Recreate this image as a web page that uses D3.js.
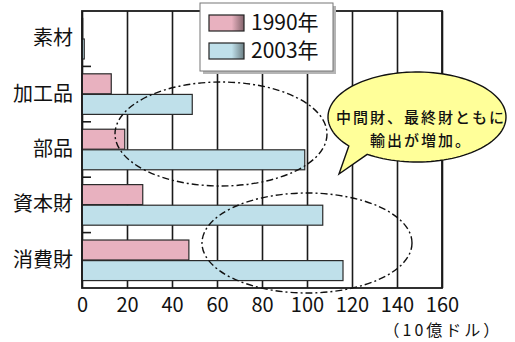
<!DOCTYPE html>
<html>
<head>
<meta charset="utf-8">
<script src="https://cdn.jsdelivr.net/npm/d3@7"></script>
<style>
  html, body { margin: 0; padding: 0; background: #fff; }
  svg { display: block; }
  text { font-family: "Noto Sans CJK JP", "Noto Sans", sans-serif; fill: #111; }
</style>
</head>
<body>
<svg id="chart" width="515" height="342"></svg>
<script>
// Export by goods category (10億ドル)
const categories = ["素材", "加工品", "部品", "資本財", "消費財"];
const seriesNames = ["1990年", "2003年"];
const values1990 = [0.3, 13, 19, 27, 47.5];
const values2003 = [1.0, 49, 99, 107, 116];
const xTicks = [0, 20, 40, 60, 80, 100, 120, 140, 160];
const unitLabel = "（10億ドル）";
const noteLines = ["中間財、最終財ともに", "輸出が増加。"];

const colors = { "1990年": "#e8b1bf", "2003年": "#bfe0ea" };

const svg = d3.select("#chart");
const plotLeft = 82, plotRight = 442, plotTop = 11, plotBottom = 288;

const x = d3.scaleLinear().domain([0, 160]).range([plotLeft, plotRight]);
const y = d3.scaleBand().domain(categories).range([plotTop, plotBottom]);
const ySub = d3.scaleBand().domain(seriesNames).range([0, y.bandwidth()])
  .paddingInner(0.03).paddingOuter(0.36);

const rows = categories.map((c, i) => ({ cat: c, vals: [values1990[i], values2003[i]] }));

// defs: gradient swatches for the legend
const defs = svg.append("defs");
seriesNames.forEach((s, i) => {
  const g = defs.append("linearGradient").attr("id", "sw" + i)
    .attr("x1", "0%").attr("x2", "100%");
  g.append("stop").attr("offset", "0%").attr("stop-color", colors[s]);
  g.append("stop").attr("offset", "65%").attr("stop-color", colors[s]);
  g.append("stop").attr("offset", "100%").attr("stop-color", d3.color(colors[s]).darker(1.6));
});

// vertical grid lines
svg.append("g")
  .attr("transform", `translate(0,${plotBottom})`)
  .call(d3.axisBottom(x).tickValues(xTicks).tickSize(-(plotBottom - plotTop)).tickFormat(""))
  .call(g => g.select(".domain").remove())
  .call(g => g.selectAll("line").attr("stroke", "#1a1a1a").attr("stroke-width", 1.6));

// bars
const rowG = svg.append("g").selectAll("g").data(rows).join("g")
  .attr("transform", d => `translate(0,${y(d.cat)})`);
rowG.selectAll("rect").data(d => d.vals.map((v, i) => ({ s: seriesNames[i], v })))
  .join("rect")
  .attr("x", x(0))
  .attr("y", d => ySub(d.s))
  .attr("width", d => x(d.v) - x(0))
  .attr("height", ySub.bandwidth())
  .attr("fill", d => colors[d.s])
  .attr("stroke", "#2a2a2a")
  .attr("stroke-width", 1.2);

// plot frame
svg.append("rect")
  .attr("x", plotLeft).attr("y", plotTop)
  .attr("width", plotRight - plotLeft).attr("height", plotBottom - plotTop)
  .attr("fill", "none").attr("stroke", "#1a1a1a").attr("stroke-width", 1.8);

// category separator ticks on the left axis
svg.append("g").selectAll("line").data(categories.slice(1)).join("line")
  .attr("x1", plotLeft).attr("x2", plotLeft + 9)
  .attr("y1", d => y(d)).attr("y2", d => y(d))
  .attr("stroke", "#1a1a1a").attr("stroke-width", 1.6);

// category labels
svg.append("g")
  .attr("transform", `translate(${plotLeft},0)`)
  .call(d3.axisLeft(y).tickSize(0).tickPadding(9))
  .call(g => g.select(".domain").remove())
  .call(g => g.selectAll("text").style("font-size", "20px").attr("fill", "#111"));

// value labels
svg.append("g")
  .attr("transform", `translate(0,${plotBottom})`)
  .call(d3.axisBottom(x).tickValues(xTicks).tickSize(0).tickPadding(10).tickFormat(d3.format("d")))
  .call(g => g.select(".domain").remove())
  .call(g => g.selectAll("text").style("font-size", "20px").attr("fill", "#111"));

svg.append("text")
  .attr("x", 443).attr("y", 336)
  .attr("text-anchor", "middle")
  .style("font-size", "16px")
  .style("letter-spacing", "3px")
  .text(unitLabel);

// dash-dot ellipses around the 2003 bar ends
const ringStyle = sel => sel.attr("fill", "none").attr("stroke", "#111")
  .attr("stroke-width", 1.4).attr("stroke-dasharray", "7,3,2,3");
svg.append("ellipse").attr("cx", 221).attr("cy", 134).attr("rx", 106).attr("ry", 52).call(ringStyle);
svg.append("ellipse").attr("cx", 307).attr("cy", 243).attr("rx", 105).attr("ry", 50).call(ringStyle);

// legend
const lg = svg.append("g");
lg.append("rect").attr("x", 203).attr("y", 6).attr("width", 133).attr("height", 68).attr("fill", "#b5b5b5");
lg.append("rect").attr("x", 200).attr("y", 3).attr("width", 133).attr("height", 68)
  .attr("fill", "#fff").attr("stroke", "#777").attr("stroke-width", 1);
seriesNames.forEach((s, i) => {
  const yy = 15 + i * 28;
  lg.append("rect").attr("x", 209).attr("y", yy).attr("width", 35).attr("height", 16)
    .attr("fill", `url(#sw${i})`).attr("stroke", "#222").attr("stroke-width", 1.2);
  lg.append("text").attr("x", 251).attr("y", yy + 8).attr("dy", "0.35em")
    .style("font-size", "21px").text(s);
});

// speech balloon
const cx = 417, cy = 117, rx = 89, ry = 45;
const a0 = 140 * Math.PI / 180, a1 = 124 * Math.PI / 180;
const balloon = d3.path();
const steps = 120;
for (let k = 0; k <= steps; k++) {
  // go around the ellipse from a1 to a0 (the long way), leaving a gap for the tail
  const t = a1 - (k / steps) * (2 * Math.PI - (a0 - a1));
  const px = cx + rx * Math.cos(t), py = cy + ry * Math.sin(t);
  if (k === 0) balloon.moveTo(px, py); else balloon.lineTo(px, py);
}
balloon.lineTo(339, 174);
balloon.closePath();
svg.append("path").attr("d", balloon.toString())
  .attr("fill", "#ffff99").attr("stroke", "#111").attr("stroke-width", 1.4);

svg.append("g").selectAll("text").data(noteLines).join("text")
  .attr("x", 421).attr("y", (d, i) => 118 + i * 22.5).attr("dy", "0.35em")
  .attr("text-anchor", "middle")
  .style("font-size", "15px")
  .style("font-weight", "500")
  .style("letter-spacing", "2px")
  .text(d => d);
</script>
</body>
</html>
